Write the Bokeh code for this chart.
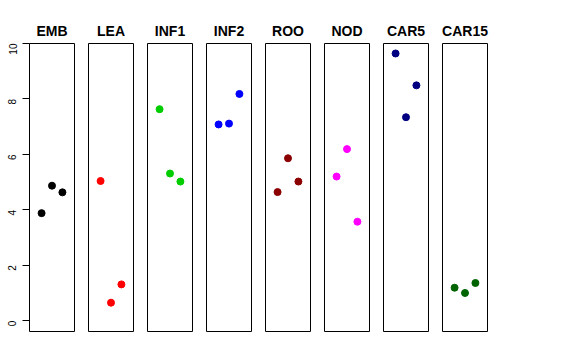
import math
from bokeh.plotting import figure
from bokeh.layouts import row
from bokeh.embed import file_html
from bokeh.resources import INLINE
from bokeh.models import Range1d, FixedTicker

tissues = ["EMB", "LEA", "INF1", "INF2", "ROO", "NOD", "CAR5", "CAR15"]
colors = ["black", "red", "#00CD00", "blue", "#8B0000", "magenta", "#000080", "#006400"]
x_pos = [1, 2, 3]
emb = [3.88, 4.87, 4.63]
lea = [5.04, 0.65, 1.31]
inf1 = [7.63, 5.31, 5.02]
inf2 = [7.08, 7.11, 8.18]
roo = [4.64, 5.86, 5.02]
nod = [5.20, 6.19, 3.57]
car5 = [9.64, 7.34, 8.49]
car15 = [1.19, 1.00, 1.36]
series = [emb, lea, inf1, inf2, roo, nod, car5, car15]
y_ticks = [0, 2, 4, 6, 8, 10]

FONT = "Liberation Sans"
figs = []
for i, (name, col, vals) in enumerate(zip(tissues, colors, series)):
    p = figure(frame_width=45, frame_height=288,
               x_range=Range1d(-0.16, 4.16), y_range=Range1d(-0.39, 10),
               output_backend="svg", toolbar_location=None,
               min_border_left=29 if i == 0 else 7, min_border_right=7,
               min_border_top=43, min_border_bottom=5,
               title=name)
    p.title.align = "center"
    p.title.text_font = FONT
    p.title.text_font_style = "bold"
    p.title.text_font_size = "14px"
    p.title.text_color = "black"
    p.title.standoff = 10
    p.grid.visible = False
    p.xaxis.visible = False
    p.outline_line_color = "black"
    p.outline_line_width = 1
    p.outline_line_alpha = 1
    p.background_fill_color = "white"
    p.border_fill_color = "white"
    if i == 0:
        ax = p.yaxis[0]
        ax.ticker = FixedTicker(ticks=y_ticks)
        ax.major_label_orientation = math.pi / 2
        ax.major_label_text_font = FONT
        ax.major_label_text_font_size = "10px"
        ax.major_label_text_color = "black"
        ax.major_tick_out = 7
        ax.major_tick_in = 0
        ax.minor_tick_out = 0
        ax.minor_tick_in = 0
        ax.major_label_standoff = 10
        ax.axis_line_color = None
        ax.major_tick_line_color = "black"
    else:
        p.yaxis.visible = False
    p.scatter(x_pos, vals, size=7, color=col, line_color=col)
    figs.append(p)

layout = row(*figs, spacing=0)
open("out.html", "w").write(file_html(layout, INLINE))
